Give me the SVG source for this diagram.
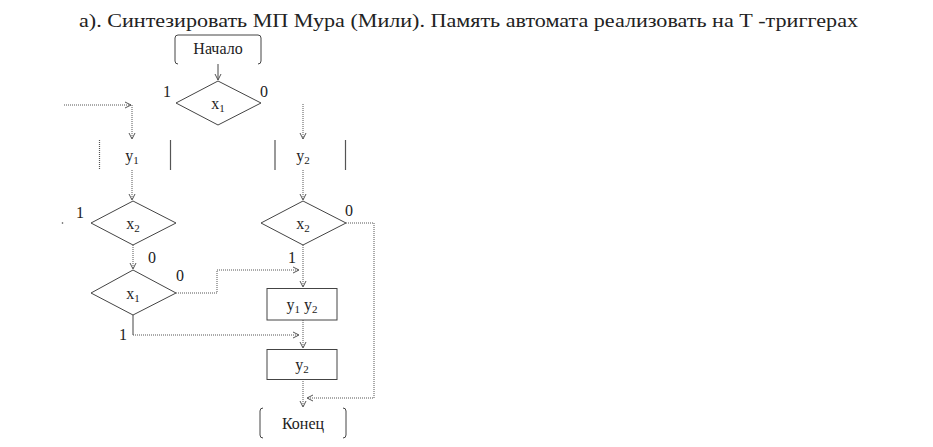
<svg xmlns="http://www.w3.org/2000/svg" width="933" height="447" viewBox="0 0 933 447">
<style>
  text { font-family: "Liberation Serif", "DejaVu Serif", serif; fill: #222; }
  .t { font-size: 16px; text-anchor: middle; }
  .lbl { font-size: 16px; text-anchor: middle; }
  .sub { font-size: 11px; }
  .shape { fill: #fff; stroke: #444; stroke-width: 1; }
  .open { fill: none; stroke: #444; stroke-width: 1; }
  .bar { stroke: #555; stroke-width: 1.2; }
  .con { fill: none; stroke: #555; stroke-width: 1; stroke-dasharray: 1 1; }
  .solid { fill: none; stroke: #444; stroke-width: 1; }
</style>
<defs>
  <marker id="arr" viewBox="0 0 8 8" refX="7" refY="4" markerWidth="8" markerHeight="8" orient="auto" markerUnits="userSpaceOnUse">
    <path d="M1,1 L7,4 L1,7" fill="none" stroke="#555" stroke-width="1"/>
  </marker>
</defs>
<rect width="933" height="447" fill="#fff"/>
<text x="79" y="27" font-size="18" textLength="779" lengthAdjust="spacingAndGlyphs">а). Синтезировать МП Мура (Мили). Память автомата реализовать на Т -триггерах</text>

<g id="connectors">
  <path class="solid" d="M218,64 L218,80" marker-end="url(#arr)"/>
  <path class="con" d="M64,105 L131,105" marker-end="url(#arr)"/>
  <path class="con" d="M132,105 L132,139" marker-end="url(#arr)"/>
  <path class="con" d="M303,104 L303,139" marker-end="url(#arr)"/>
  <path class="con" d="M132,170 L132,200" marker-end="url(#arr)"/>
  <path class="con" d="M303,170 L303,200" marker-end="url(#arr)"/>
  <path class="con" d="M133,245 L133,269" marker-end="url(#arr)"/>
  <path class="con" d="M176,293 L217,293 L217,270 L299,270" marker-end="url(#arr)"/>
  <path class="con" d="M303,245 L303,287" marker-end="url(#arr)"/>
  <path class="solid" d="M133,315 L133,335"/>
  <path class="con" d="M133,335 L299,335" marker-end="url(#arr)"/>
  <path class="con" d="M303,320 L303,348" marker-end="url(#arr)"/>
  <path class="con" d="M346,223 L374,223 L374,398 L307,398" marker-end="url(#arr)"/>
  <path class="con" d="M303,379 L303,407" marker-end="url(#arr)"/>
  <circle cx="62.5" cy="223" r="0.8" fill="#444"/>
</g>

<g id="start">
  <path class="open" d="M178,64 Q175,64 175,61 L175,38 Q175,35 178,35 L258,35 Q261,35 261,38 L261,61 Q261,64 258,64"/>
  <text class="t" x="218" y="54">Начало</text>
</g>

<g id="cond1">
  <polygon class="shape" points="218,81 261,103 218,125 176,103"/>
  <text class="t" x="218" y="109">x<tspan class="sub" dy="3">1</tspan></text>
  <text class="lbl" x="167" y="97">1</text>
  <text class="lbl" x="264" y="97">0</text>
</g>

<g id="op-y1">
  <line class="bar" x1="99.5" y1="140" x2="99.5" y2="170" stroke-dasharray="1 1"/>
  <line class="bar" x1="170.5" y1="140" x2="170.5" y2="170"/>
  <text class="t" x="132" y="161">y<tspan class="sub" dy="3">1</tspan></text>
</g>

<g id="op-y2a">
  <line class="bar" x1="275" y1="140" x2="275" y2="170"/>
  <line class="bar" x1="345.5" y1="140" x2="345.5" y2="170"/>
  <text class="t" x="303" y="161">y<tspan class="sub" dy="3">2</tspan></text>
</g>

<g id="cond2-left">
  <polygon class="shape" points="133,201 176,223 133,245 91,223"/>
  <text class="t" x="133" y="229">x<tspan class="sub" dy="3">2</tspan></text>
  <text class="lbl" x="80" y="218">1</text>
  <text class="lbl" x="152" y="263">0</text>
</g>

<g id="cond1-lower">
  <polygon class="shape" points="133,270 176,293 133,315 91,293"/>
  <text class="t" x="133" y="299">x<tspan class="sub" dy="3">1</tspan></text>
  <text class="lbl" x="180" y="281">0</text>
  <text class="lbl" x="123" y="340">1</text>
</g>

<g id="cond2-right">
  <polygon class="shape" points="303,201 346,223 303,245 261,223"/>
  <text class="t" x="303" y="229">x<tspan class="sub" dy="3">2</tspan></text>
  <text class="lbl" x="349" y="216">0</text>
  <text class="lbl" x="292" y="263">1</text>
</g>

<g id="op-y1y2">
  <rect class="shape" x="267" y="288.5" width="70" height="31.5"/>
  <text class="t" x="302" y="310">y<tspan class="sub" dy="3">1</tspan><tspan dy="-3"> y</tspan><tspan class="sub" dy="3">2</tspan></text>
</g>

<g id="op-y2b">
  <rect class="shape" x="267" y="349.5" width="70" height="30"/>
  <text class="t" x="302" y="370">y<tspan class="sub" dy="3">2</tspan></text>
</g>

<g id="end">
  <path class="open" d="M263,408 Q260,408 260,411 L260,435 Q260,438 263,438"/>
  <path class="open" d="M343,408 Q346,408 346,411 L346,435 Q346,438 343,438"/>
  <text class="t" x="303" y="429">Конец</text>
</g>
</svg>
